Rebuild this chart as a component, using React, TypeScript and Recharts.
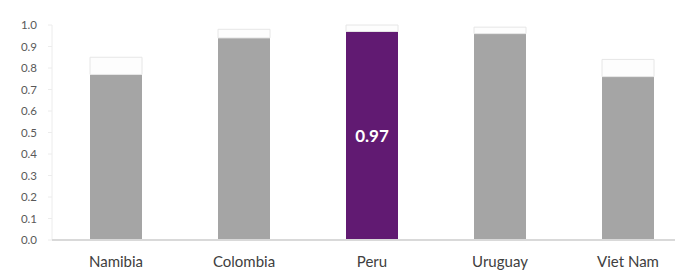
import React from "react";
import { BarChart, Bar, XAxis, YAxis, Cell, LabelList } from "recharts";

const categories = ["Namibia", "Colombia", "Peru", "Uruguay", "Viet Nam"];
const values = [0.77, 0.94, 0.97, 0.96, 0.76];
const uppers = [0.85, 0.98, 1.0, 0.99, 0.84];
const highlight = "Peru";
const yTicks = [0, 0.1, 0.2, 0.3, 0.4, 0.5, 0.6, 0.7, 0.8, 0.9, 1.0];

const data = categories.map((c, i) => ({
  name: c,
  value: values[i],
  range: Math.max(0, uppers[i] - values[i]),
}));

const FONT = "Lato, 'Open Sans', sans-serif";

export default function App() {
  return (
    <div style={{ position: "absolute", left: 0, top: 0, width: 675, height: 273, overflow: "hidden", background: "#fff" }}>
      <BarChart
        width={692}
        height={273}
        data={data}
        margin={{ top: 25, right: 0, bottom: 0, left: 0 }}
        barCategoryGap={0}
      >
        <YAxis
          type="number"
          domain={[0, 1]}
          ticks={yTicks}
          interval={0}
          width={52}
          tickFormatter={(v: number) => v.toFixed(1)}
          tick={{ fill: "#595959", fontSize: 11.5, fontFamily: FONT }}
          axisLine={{ stroke: "#ececec" }}
          tickLine={{ stroke: "#ececec" }}
          tickSize={4}
          tickMargin={11}
        />
        <XAxis
          dataKey="name"
          height={33}
          tick={{ fill: "#404040", fontSize: 15, fontFamily: FONT }}
          axisLine={{ stroke: "#d9d9d9", strokeWidth: 2 }}
          tickLine={false}
          tickMargin={10}
          interval={0}
        />
        <Bar dataKey="value" stackId="a" barSize={52} isAnimationActive={false}>
          {data.map((d) => (
            <Cell key={d.name} fill={d.name === highlight ? "#611a72" : "#a5a5a5"} />
          ))}
          <LabelList
            dataKey="value"
            position="center"
            content={(props: any) => {
              const { x, y, width, height, index } = props;
              if (data[index].name !== highlight) return null;
              return (
                <text
                  x={x + width / 2}
                  y={y + height / 2}
                  textAnchor="middle"
                  dominantBaseline="central"
                  fill="#ffffff"
                  fontSize={17}
                  fontWeight="bold"
                  fontFamily={FONT}
                >
                  {values[index].toFixed(2)}
                </text>
              );
            }}
          />
        </Bar>
        <Bar
          dataKey="range"
          stackId="a"
          barSize={52}
          fill="#fdfdfd"
          stroke="#e6e6e6"
          strokeWidth={1}
          isAnimationActive={false}
        />
      </BarChart>
    </div>
  );
}
